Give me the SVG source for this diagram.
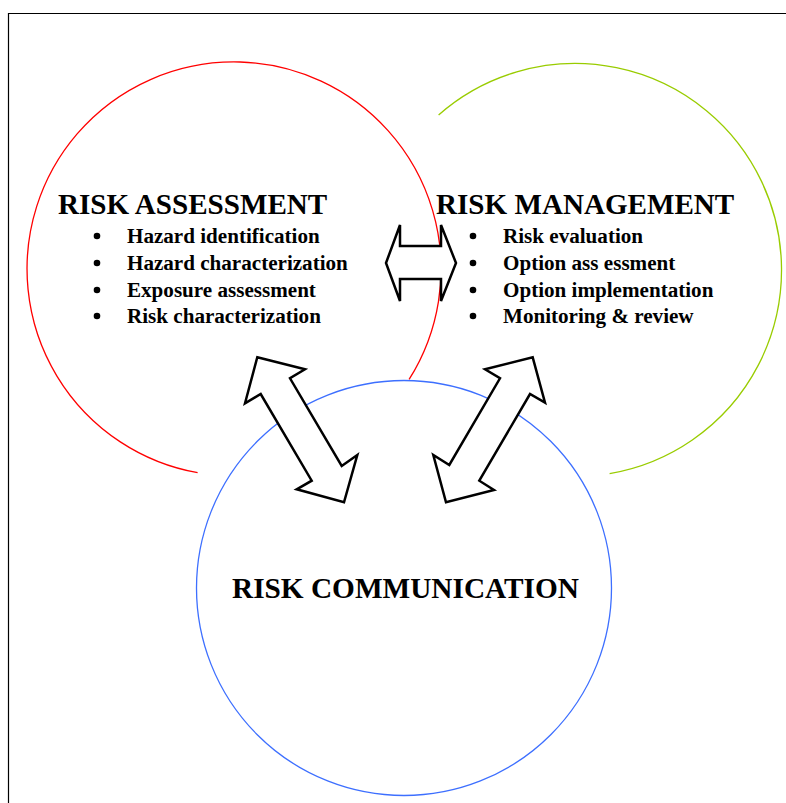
<svg xmlns="http://www.w3.org/2000/svg" width="786" height="803" viewBox="0 0 786 803">
<style>
.title{font-family:"Liberation Serif","Times New Roman",serif;font-weight:bold;font-size:29.1px;fill:#000}
.item{font-family:"Liberation Serif","Times New Roman",serif;font-weight:bold;font-size:21.1px;fill:#000}
.arrow{fill:#fff;stroke:#000;stroke-width:2.5;stroke-linejoin:miter}
.ring{fill:none;stroke-width:1.3}
</style>
<rect width="786" height="803" fill="#fff"/>
<g id="frame" fill="none" stroke="#000" stroke-width="1.2">
<path d="M8.5 803 V13.5 H786"/>
</g>
<g id="risk-assessment">
<path class="ring" stroke="#ff0000" d="M197.6 472.7 A207 207 0 1 1 409.1 379.4"/>
<text class="title" x="58" y="214">RISK ASSESSMENT</text>
<g fill="#000"><circle cx="97" cy="236" r="3.3"/><circle cx="97" cy="263" r="3.3"/><circle cx="97" cy="290" r="3.3"/><circle cx="97" cy="316" r="3.3"/></g>
<text class="item" x="127" y="243">Hazard identification</text>
<text class="item" x="127" y="270">Hazard characterization</text>
<text class="item" x="127" y="297">Exposure assessment</text>
<text class="item" x="127" y="323">Risk characterization</text>
</g>
<g id="risk-management">
<path class="ring" stroke="#99cc00" d="M438.6 115 A206.5 206.5 0 1 1 609.6 473.6"/>
<text class="title" x="436" y="214">RISK MANAGEMENT</text>
<g fill="#000"><circle cx="473" cy="236" r="3.3"/><circle cx="473" cy="263" r="3.3"/><circle cx="473" cy="290" r="3.3"/><circle cx="473" cy="316" r="3.3"/></g>
<text class="item" x="503" y="243">Risk evaluation</text>
<text class="item" x="503" y="270">Option ass essment</text>
<text class="item" x="503" y="297">Option implementation</text>
<text class="item" x="503" y="323">Monitoring &amp; review</text>
</g>
<g id="risk-communication">
<circle class="ring" stroke="#3d6fff" cx="404" cy="588" r="207.5"/>
<text class="title" x="232" y="598" style="font-size:29.3px">RISK COMMUNICATION</text>
</g>
<g id="connectors">
<polygon class="arrow" points="386,263 400,225 400,246 441,246 441,225 456,263 441,301 441,279 400,279 400,301"/>
<polygon class="arrow" points="257.3,357.3 305,369.3 290,378.3 341.7,466 357.3,455 344,502.3 296.7,489.3 311.7,480.7 260.7,394 245,403.3"/>
<polygon class="arrow" points="532.7,357.3 545,402.7 530,394 479.3,480.7 494,490 446,502.3 433.3,455 449.3,465 500,378.3 485,369.3"/>
</g>
</svg>
